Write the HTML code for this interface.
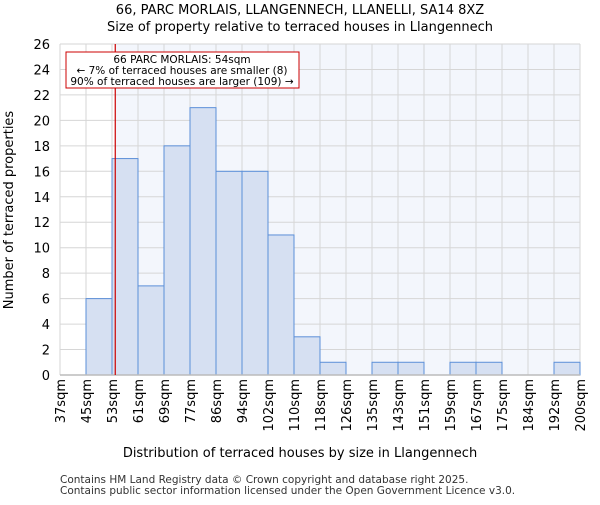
<!DOCTYPE html>
<html><head><meta charset="utf-8"><style>
body{margin:0;background:#fff;font-family:"Liberation Sans","DejaVu Sans",sans-serif}
</style></head><body>
<svg id="chart" width="600" height="500" xmlns="http://www.w3.org/2000/svg" font-family="DejaVu Sans, Liberation Sans, sans-serif">
<text x="300" y="14" text-anchor="middle" font-size="13">66, PARC MORLAIS, LLANGENNECH, LLANELLI, SA14 8XZ</text>
<text x="300" y="31" text-anchor="middle" font-size="13">Size of property relative to terraced houses in Llangennech</text>
<g id="plot"></g>
<text x="300" y="457" text-anchor="middle" font-size="13">Distribution of terraced houses by size in Llangennech</text>
<text transform="translate(13,210) rotate(-90)" text-anchor="middle" font-size="13">Number of terraced properties</text>
<text x="60" y="483" font-size="10.5" fill="#333">Contains HM Land Registry data © Crown copyright and database right 2025.</text>
<text x="60" y="494" font-size="10.5" fill="#333">Contains public sector information licensed under the Open Government Licence v3.0.</text>
</svg>
<script>
const binLabels=["37sqm","45sqm","53sqm","61sqm","69sqm","77sqm","86sqm","94sqm","102sqm","110sqm","118sqm","126sqm","135sqm","143sqm","151sqm","159sqm","167sqm","175sqm","184sqm","192sqm","200sqm"];
const binEdges=[37,45,53,61,69,77,86,94,102,110,118,126,135,143,151,159,167,175,184,192,200];
const counts=[0,6,17,7,18,21,16,16,11,3,1,0,1,1,0,1,1,0,0,1];
const yTicks=[0,2,4,6,8,10,12,14,16,18,20,22,24,26];
const propertySize=54;
const X0=60,X1=580,Y0=375,Y1=44,YMAX=26;
const NS="http://www.w3.org/2000/svg";
const g=document.getElementById('plot');
const bw=(X1-X0)/counts.length;
const xi=i=>X0+i*bw;
const xv=v=>{for(let i=0;i<binEdges.length-1;i++){if(v<=binEdges[i+1])return xi(i)+(v-binEdges[i])/(binEdges[i+1]-binEdges[i])*bw;}return X1;};
const y=v=>Y0-(v/YMAX)*(Y0-Y1);
function mk(t,a){const e=document.createElementNS(NS,t);for(const k in a)e.setAttribute(k,a[k]);g.appendChild(e);return e;}
const px=xv(propertySize);
let bg=mk('rect',{x:px,y:Y1,width:X1-px,height:Y0-Y1,fill:'#f3f6fc'});


yTicks.forEach(t=>{
 let l=mk('line',{x1:X0,x2:X1,y1:y(t),y2:y(t),stroke:'#d6d6d6','stroke-width':1});
 
 
 let tx=mk('text',{x:X0-10,y:y(t)+5,'text-anchor':'end','font-size':13});
 
 
 tx.textContent=t;
});
binLabels.forEach((s,i)=>{
 let l=mk('line',{x1:xi(i),x2:xi(i),y1:Y1,y2:Y0,stroke:'#d6d6d6','stroke-width':1});
 
 
 let tx=mk('text',{transform:`translate(${xi(i)+5},379) rotate(-90)`,'text-anchor':'end','font-size':13});
 
 
 tx.textContent=s;
});
counts.forEach((c,i)=>{
 if(c<=0)return;
 let r=mk('rect',{x:xi(i),y:y(c),width:bw,height:Y0-y(c),fill:'#d6e0f2',stroke:'#5b8fd8','stroke-width':1});
 
 
});
let ax=mk('line',{x1:X0,x2:X1,y1:Y0,y2:Y0,stroke:'#bbb','stroke-width':1.5});


let rl=mk('line',{x1:px,x2:px,y1:Y1,y2:Y0,stroke:'#cc0000','stroke-width':1.2});


let box=mk('rect',{x:66,y:52,width:233,height:36,fill:'#fff',stroke:'#cc0000','stroke-width':1});


["66 PARC MORLAIS: 54sqm","← 7% of terraced houses are smaller (8)","90% of terraced houses are larger (109) →"].forEach((s,i)=>{
 let t=mk('text',{x:182,y:63+i*11,'text-anchor':'middle','font-size':10.5});
 
 
 t.textContent=s;
});
</script>
</body></html>
